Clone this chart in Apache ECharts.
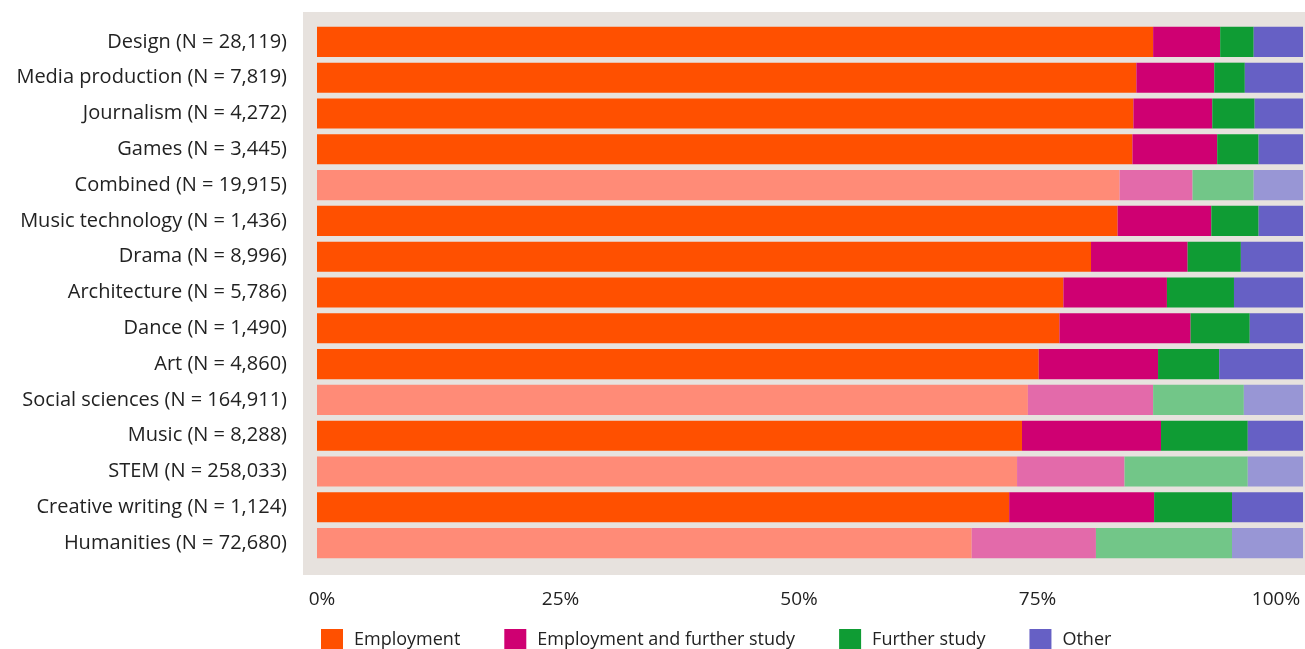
<!DOCTYPE html>
<html>
<head>
<meta charset="utf-8">
<script src="https://cdn.jsdelivr.net/npm/echarts@6/dist/echarts.min.js"></script>
<style>
html,body{margin:0;padding:0;background:#fff;}
#chart{width:1305px;height:649px;}
</style>
</head>
<body>
<div id="chart"></div>
<script>
const categories = ["Design (N = 28,119)","Media production (N = 7,819)","Journalism (N = 4,272)","Games (N = 3,445)","Combined (N = 19,915)","Music technology (N = 1,436)","Drama (N = 8,996)","Architecture (N = 5,786)","Dance (N = 1,490)","Art (N = 4,860)","Social sciences (N = 164,911)","Music (N = 8,288)","STEM (N = 258,033)","Creative writing (N = 1,124)","Humanities (N = 72,680)"];
const comparison = [false,false,false,false,true,false,false,false,false,false,true,false,true,false,true];
const employment = [84.8,83.1,82.8,82.7,81.4,81.2,78.5,75.7,75.3,73.2,72.1,71.5,71.0,70.2,66.4];
const employmentStudy = [6.8,7.9,8.0,8.6,7.4,9.5,9.8,10.5,13.3,12.1,12.7,14.1,10.9,14.7,12.6];
const furtherStudy = [3.4,3.1,4.3,4.2,6.2,4.8,5.4,6.8,6.0,6.2,9.2,8.8,12.5,7.9,13.8];
const other = [5.0,5.9,4.9,4.5,5.0,4.5,6.3,7.0,5.4,8.5,6.0,5.6,5.6,7.2,7.2];
const tickLabels = [0,25,50,75,100];

const seriesDefs = [
  {name:"Employment", data:employment, color:"#FF5000", faded:"#FF8B77"},
  {name:"Employment and further study", data:employmentStudy, color:"#CF0072", faded:"#E36AAA"},
  {name:"Further study", data:furtherStudy, color:"#0F9C34", faded:"#72C688"},
  {name:"Other", data:other, color:"#6660C5", faded:"#9896D5"}
];

const chart = echarts.init(document.getElementById('chart'));
const fontFamily = "'Open Sans', Lato, sans-serif";
chart.setOption({
  animation:false,
  textStyle:{fontFamily:fontFamily},
  graphic:[{type:'rect', z:-10, shape:{x:303,y:12,width:1002,height:563}, style:{fill:'#E7E2DE'}}],
  grid:{left:317,right:2,top:24,height:537},
  legend:{
    left:316, top:624,
    icon:'rect', itemWidth:22, itemHeight:22, itemGap:44,
    textStyle:{fontSize:18,color:'#222',fontFamily:fontFamily,padding:[0,0,0,6]},
    data:seriesDefs.map(s=>s.name)
  },
  xAxis:[
    {type:'value',min:0,max:100,show:true,axisLine:{show:false},axisTick:{show:false},splitLine:{show:false},axisLabel:{show:false}},
    {type:'value',min:-0.524,max:102.83,position:'bottom',axisLine:{show:false},axisTick:{show:false},splitLine:{show:false},
     axisLabel:{customValues:tickLabels,formatter:'{value}%',fontSize:19,color:'#222',margin:29,fontFamily:fontFamily}}
  ],
  yAxis:{type:'category',data:categories,inverse:true,axisLine:{show:false},axisTick:{show:false},
    axisLabel:{fontSize:20,color:'#222',margin:30,fontFamily:fontFamily,padding:[3,0,0,0]}},
  series:seriesDefs.map(s=>({
    name:s.name,type:'bar',stack:'total',xAxisIndex:0,barCategoryGap:'16%',
    itemStyle:{color:s.color},
    data:s.data.map((v,i)=>({value:v,itemStyle:{color:comparison[i]?s.faded:s.color}}))
  }))
});
</script>
</body>
</html>
